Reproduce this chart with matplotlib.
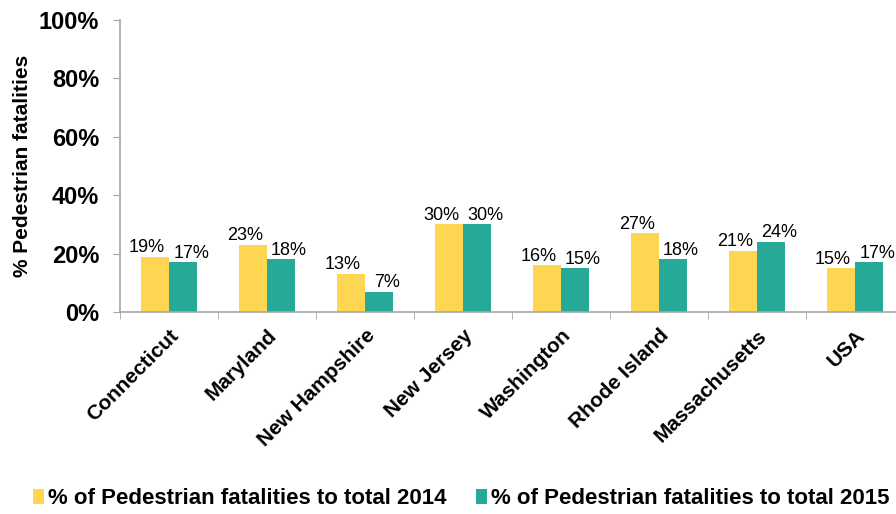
import numpy as np
import matplotlib

matplotlib.use("Agg")
import matplotlib.pyplot as plt
from matplotlib.ticker import FixedLocator, PercentFormatter

states = ["Connecticut", "Maryland", "New Hampshire", "New Jersey",
          "Washington", "Rhode Island", "Massachusetts", "USA"]
pct_2014 = [19, 23, 13, 30, 16, 27, 21, 15]
pct_2015 = [17, 18, 7, 30, 15, 18, 24, 17]
labels = ["% of Pedestrian fatalities to total 2014",
          "% of Pedestrian fatalities to total 2015"]

YELLOW = "#FFD651"
TEAL = "#26A996"
GREY = "#A6A6A6"

plt.rcParams["font.family"] = ["Liberation Sans", "DejaVu Sans"]

fig = plt.figure(figsize=(8.96, 5.14), dpi=100)
ax = fig.add_axes([0.134, 0.393, 0.875, 0.568])

x = np.arange(len(states))
w = 0.29
b1 = ax.bar(x - w / 2, pct_2014, w, color=YELLOW, label=labels[0])
b2 = ax.bar(x + w / 2, pct_2015, w, color=TEAL, label=labels[1])

# labels sit slightly apart, yellow pushed left and teal pushed right
for bars, vals, dx in ((b1, pct_2014, -0.08), (b2, pct_2015, 0.08)):
    for rect, v in zip(bars, vals):
        ax.text(rect.get_x() + rect.get_width() / 2 + dx, v + 0.2, "%d%%" % v,
                ha="center", va="bottom", fontsize=13)

ax.set_xlim(-0.5, len(states) - 0.5)
ax.set_ylim(0, 100)
ax.set_yticks(range(0, 101, 20))
ax.yaxis.set_major_formatter(PercentFormatter(decimals=0))
ax.set_xticks(x)
ax.set_xticklabels(states, rotation=45, ha="right", rotation_mode="anchor",
                   fontsize=15, fontweight="bold")
ax.tick_params(axis="x", which="major", length=0, pad=10)
ax.xaxis.set_minor_locator(FixedLocator(np.arange(-0.5, len(states), 1.0)))
ax.tick_params(axis="x", which="minor", length=5, color=GREY)
ax.tick_params(axis="y", length=5, color=GREY, labelsize=17, pad=10)
for t in ax.get_yticklabels():
    t.set_fontweight("bold")

for s in ("top", "right"):
    ax.spines[s].set_visible(False)
for s in ("left", "bottom"):
    ax.spines[s].set_color(GREY)
    ax.spines[s].set_linewidth(1.2)

ax.set_ylabel("% Pedestrian fatalities", fontsize=15, fontweight="bold", labelpad=5)

fig.legend(handles=[b1, b2], labels=labels, loc="lower center",
           bbox_to_anchor=(0.515, -0.03), ncol=2, frameon=False,
           prop={"size": 16, "weight": "bold"},
           handlelength=0.5, handleheight=0.7, handletextpad=0.2,
           columnspacing=1.3)

fig.savefig("out.png", dpi=100)
